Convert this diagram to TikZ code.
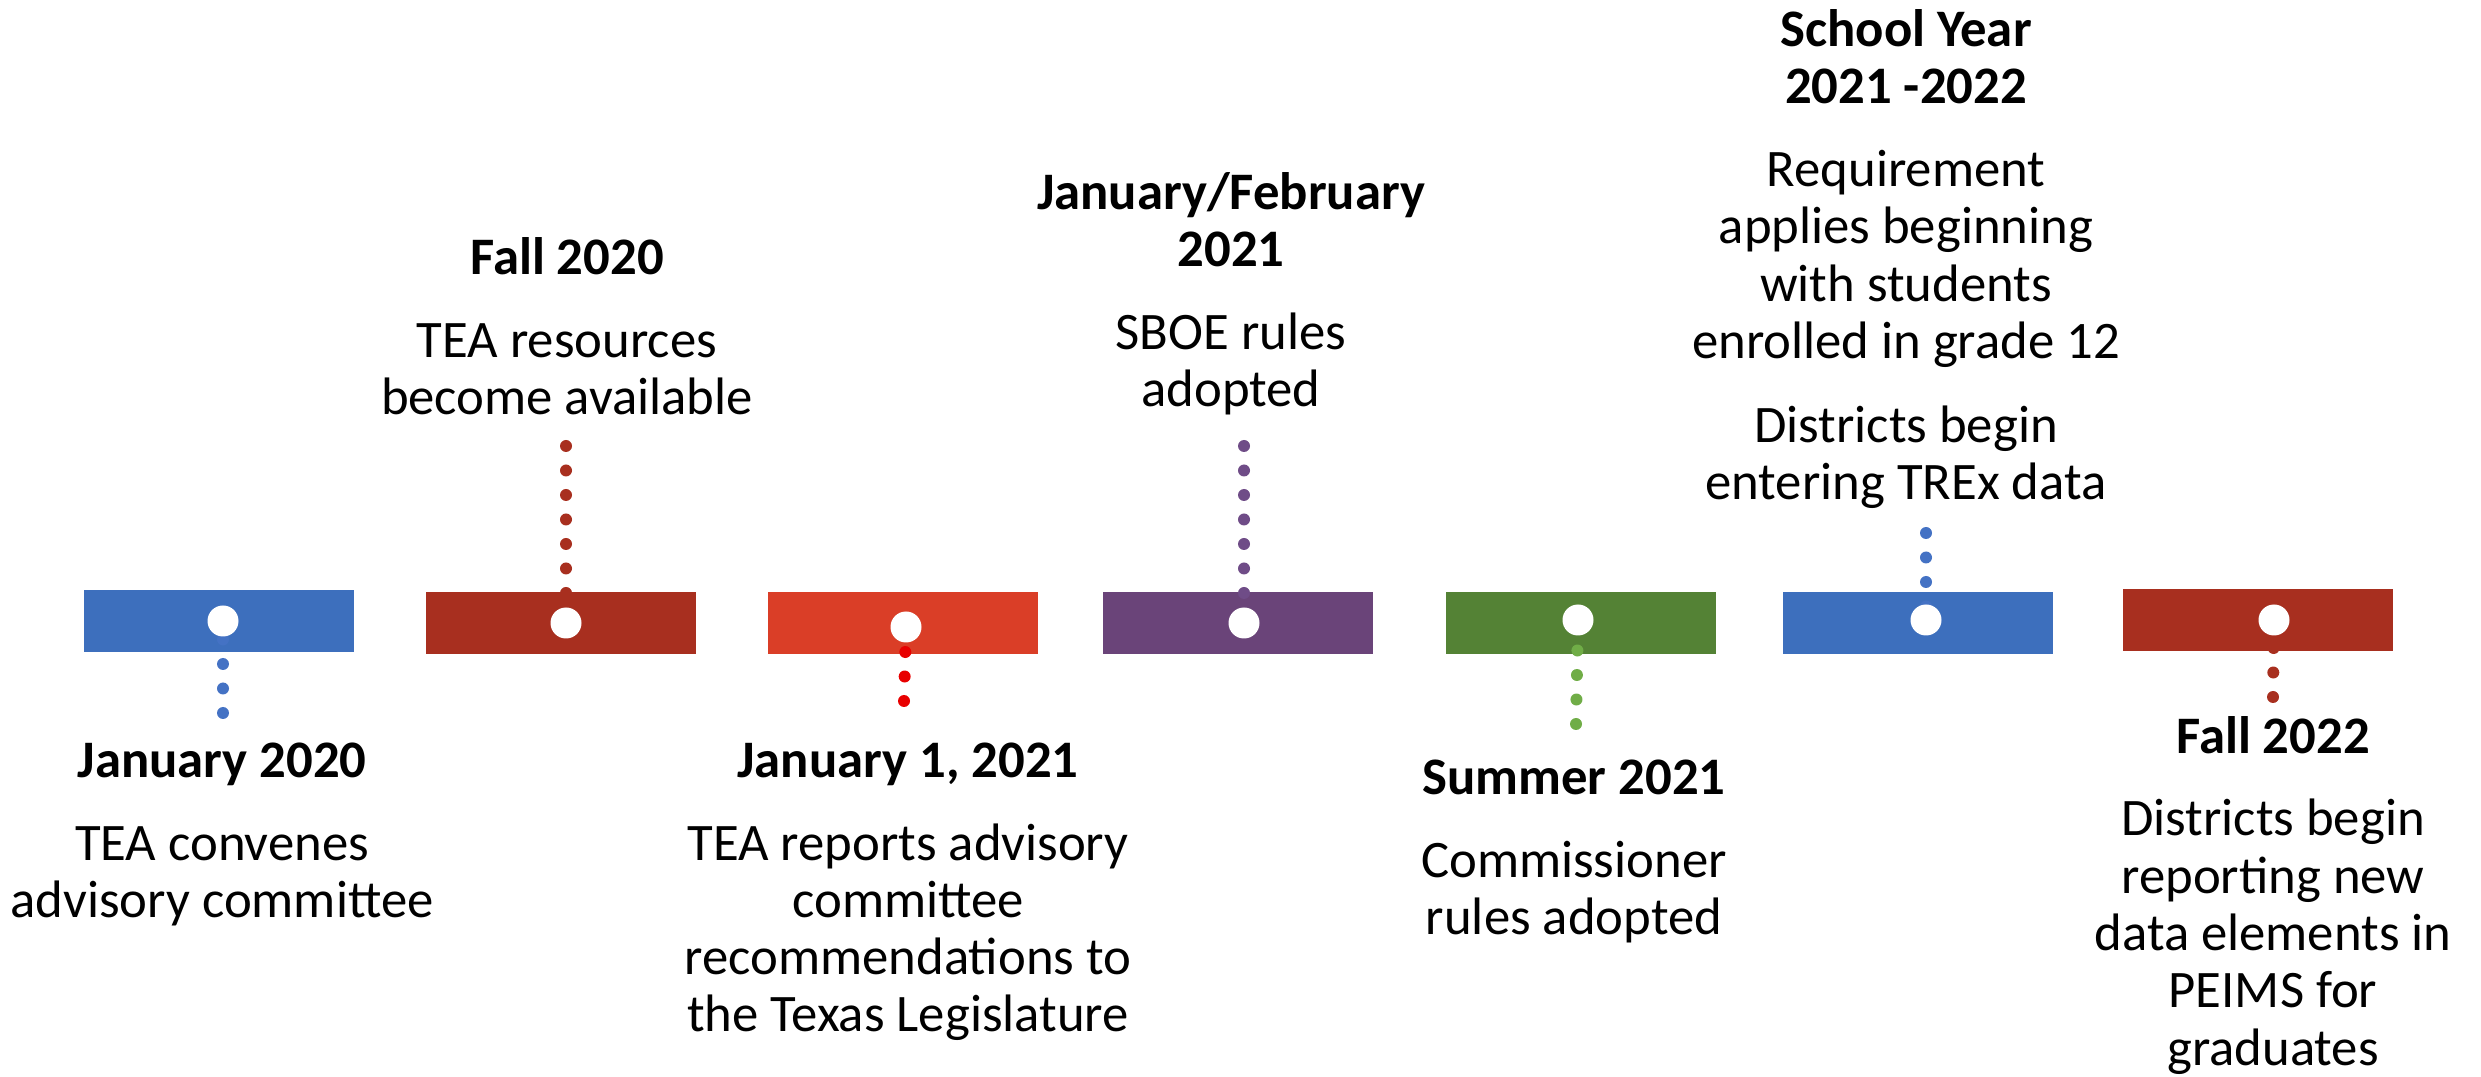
\documentclass[tikz,border=0pt]{standalone}
\usepackage{fontspec}
\setmainfont{Carlito}
\usetikzlibrary{calc}

\definecolor{tlblue}{HTML}{3D6FBD}
\definecolor{tlrust}{HTML}{A82F1F}
\definecolor{tlorange}{HTML}{DA3E27}
\definecolor{tlpurple}{HTML}{6A4479}
\definecolor{tlgreen}{HTML}{548235}
\definecolor{dotblue}{HTML}{4472C4}
\definecolor{dotred}{HTML}{E80000}
\definecolor{dotpurple}{HTML}{6F4C87}
\definecolor{dotgreen}{HTML}{70AD47}

\begin{document}
\begin{tikzpicture}[
    bar/.style={rectangle, minimum width=2.70cm, minimum height=0.62cm, inner sep=0pt},
    hole/.style={circle, fill=white, minimum size=0.31cm, inner sep=0pt},
    dotline/.style={line width=0.12cm, line cap=round, dash pattern=on 0pt off 0.245cm},
    event/.style={align=center, anchor=base, inner sep=0pt,
      font=\fontsize{15pt}{16.3pt}\selectfont}
  ]
    \useasboundingbox (0,0) rectangle (24.81,10.76);

    % the bars
    \node[bar, fill=tlblue]   (B1) at ( 2.19, 4.55) {};
    \node[bar, fill=tlrust]   (B2) at ( 5.61, 4.53) {};
    \node[bar, fill=tlorange] (B3) at ( 9.03, 4.53) {};
    \node[bar, fill=tlpurple] (B4) at (12.38, 4.53) {};
    \node[bar, fill=tlgreen]  (B5) at (15.81, 4.53) {};
    \node[bar, fill=tlblue]   (B6) at (19.18, 4.53) {};
    \node[bar, fill=tlrust]   (B7) at (22.58, 4.56) {};

    \coordinate (C1) at ( 2.23, 4.55);
    \coordinate (C2) at ( 5.66, 4.53);
    \coordinate (C3) at ( 9.06, 4.49);
    \coordinate (C4) at (12.44, 4.53);
    \coordinate (C5) at (15.78, 4.56);
    \coordinate (C6) at (19.26, 4.56);
    \coordinate (C7) at (22.74, 4.56);

    \coordinate (E1) at ( 2.23, 3.63);
    \coordinate (E2) at ( 5.66, 6.30);
    \coordinate (E3) at ( 9.04, 3.75);
    \coordinate (E4) at (12.44, 6.30);
    \coordinate (E5) at (15.76, 3.52);
    \coordinate (E6) at (19.26, 5.43);
    \coordinate (E7) at (22.73, 3.79);

    \draw[dotline, dotblue]   (E1) -- (C1);
    \draw[dotline, tlrust]    (E2) -- (C2);
    \draw[dotline, dotred]    (E3) -- (C3);
    \draw[dotline, dotpurple] (E4) -- (C4);
    \draw[dotline, dotgreen]  (E5) -- (C5);
    \draw[dotline, dotblue]   (E6) -- (C6);
    \draw[dotline, tlrust]    (E7) -- (C7);

    \foreach \i in {1,...,7}
      \node[hole] (H\i) at (C\i) {};

    % the texts (anchored at the base of the last line)
    \node[event] (T1) at ( 2.22, 1.58) {\textbf{January 2020}\\[0.255cm]
      TEA convenes\\advisory committee};
    \node[event] (T2) at ( 5.67, 6.61) {\textbf{Fall 2020}\\[0.255cm]
      TEA resources\\become available};
    \node[event] (T3) at ( 9.08, 0.44) {\textbf{January 1, 2021}\\[0.255cm]
      TEA reports advisory\\committee\\recommendations to\\the Texas Legislature};
    \node[event] (T4) at (12.31, 6.69) {\textbf{January/February}\\\textbf{2021}\\[0.255cm]
      SBOE rules\\adopted};
    \node[event] (T5) at (15.74, 1.41) {\textbf{Summer 2021}\\[0.255cm]
      Commissioner\\rules adopted};
    \node[event] (T6) at (19.06, 5.76) {\textbf{School Year}\\\textbf{2021 -2022}\\[0.255cm]
      Requirement\\applies beginning\\with students\\enrolled in grade 12\\[0.27cm]
      Districts begin\\entering TREx data};
    \node[event] (T7) at (22.73, 0.11) {\textbf{Fall 2022}\\[0.255cm]
      Districts begin\\reporting new\\data elements in\\PEIMS for\\graduates};
  \end{tikzpicture}
\end{document}
